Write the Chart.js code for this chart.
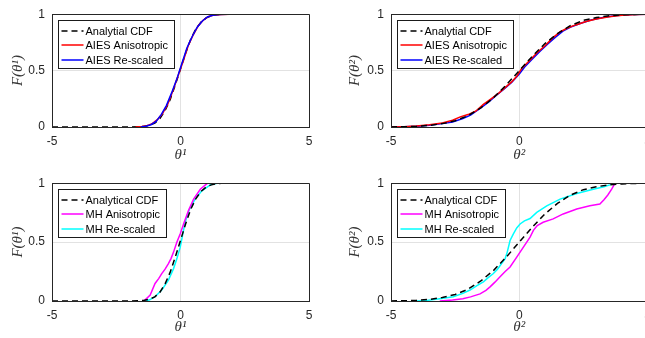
<!DOCTYPE html>
<html><head><meta charset="utf-8">
<script src="https://cdn.jsdelivr.net/npm/chart.js@4/dist/chart.umd.min.js"></script>
<style>
html,body{margin:0;padding:0;background:#fff;overflow:hidden;width:645px;height:338px}
#wrap{position:relative;width:645px;height:338px;overflow:hidden;background:#fff}
canvas{position:absolute}
</style></head><body>
<div id="wrap">
<canvas id="c1" width="330" height="169" style="left:0;top:0;width:330px;height:169px"></canvas>
<canvas id="c2" width="340" height="169" style="left:330px;top:0;width:340px;height:169px"></canvas>
<canvas id="c3" width="330" height="169" style="left:0;top:169px;width:330px;height:169px"></canvas>
<canvas id="c4" width="340" height="169" style="left:330px;top:169px;width:340px;height:169px"></canvas>
</div>
<script>
// ---- tick values and labels ----
const xTickVals = [-5, 0, 5];
const xTickLabels = ['-5', '0', '5'];
const yTickVals = [0, 0.5, 1];
const yTickLabels = ['0', '0.5', '1'];

// ---- legend labels ----
const labelsTop = ['Analytial CDF', 'AIES Anisotropic', 'AIES Re-scaled'];
const labelsBot = ['Analytical CDF', 'MH Anisotropic', 'MH Re-scaled'];

// ---- theta^1 analytical CDF ----
const cdf1X = [-5, -2, -1.6, -1.4, -1.2, -1.0, -0.8, -0.6, -0.4, -0.2, 0, 0.2, 0.4, 0.6, 0.8, 1.0, 1.2, 1.4, 1.6, 2, 5];
const cdf1Y = [0, 0, 0.002, 0.006, 0.016, 0.035, 0.075, 0.145, 0.245, 0.375, 0.515, 0.655, 0.78, 0.87, 0.93, 0.968, 0.986, 0.995, 0.999, 1, 1];

// ---- theta^2 analytical CDF ----
const cdf2X = [-5, -4.5, -4, -3.5, -3, -2.5, -2, -1.5, -1, -0.5, 0, 0.5, 1, 1.5, 2, 2.5, 3, 3.5, 4, 4.5, 5];
const cdf2Y = [0.001, 0.002, 0.006, 0.014, 0.03, 0.055, 0.1, 0.17, 0.26, 0.375, 0.5, 0.625, 0.74, 0.83, 0.9, 0.945, 0.97, 0.986, 0.994, 0.998, 1];

// ---- AIES theta^1 ----
const aiesA1X = [-1.75, -1.5, -1.3, -1.1, -0.9, -0.7, -0.5, -0.3, -0.1, 0.1, 0.3, 0.5, 0.7, 0.9, 1.1, 1.3, 1.6, 1.9];
const aiesA1Y = [0, 0.004, 0.012, 0.03, 0.065, 0.12, 0.2, 0.32, 0.45, 0.58, 0.72, 0.82, 0.9, 0.95, 0.98, 0.993, 0.998, 1];
const aiesR1X = [-1.55, -1.35, -1.15, -0.95, -0.75, -0.55, -0.35, -0.15, 0.05, 0.25, 0.45, 0.65, 0.85, 1.05, 1.25, 1.5, 1.85];
const aiesR1Y = [0, 0.006, 0.02, 0.05, 0.11, 0.19, 0.3, 0.42, 0.56, 0.7, 0.8, 0.885, 0.94, 0.975, 0.99, 0.997, 1];

// ---- AIES theta^2 ----
const aiesA2X = [-5, -4.5, -4, -3.5, -3, -2.6, -2.3, -2.0, -1.7, -1.4, -1.1, -0.8, -0.5, -0.3, -0.1, 0.1, 0.4, 0.7, 1.0, 1.3, 1.6, 1.9, 2.2, 2.6, 3.0, 3.5, 4.0, 4.6, 5];
const aiesA2Y = [0, 0.003, 0.008, 0.02, 0.035, 0.06, 0.09, 0.11, 0.14, 0.2, 0.25, 0.3, 0.36, 0.40, 0.45, 0.52, 0.59, 0.66, 0.72, 0.79, 0.845, 0.88, 0.905, 0.935, 0.958, 0.978, 0.99, 0.998, 1];
const aiesR2X = [-5, -4.5, -4, -3.5, -3, -2.6, -2.2, -1.9, -1.5, -1.2, -0.9, -0.6, -0.3, 0, 0.2, 0.5, 0.8, 1.1, 1.4, 1.7, 2.0, 2.4, 2.8, 3.3, 3.8, 4.4, 5];
const aiesR2Y = [0, 0.002, 0.006, 0.015, 0.03, 0.045, 0.075, 0.105, 0.17, 0.22, 0.28, 0.335, 0.395, 0.47, 0.53, 0.6, 0.67, 0.735, 0.795, 0.85, 0.885, 0.92, 0.948, 0.972, 0.988, 0.997, 1];

// ---- MH theta^1 ----
const mhA1X = [-1.45, -1.375, -1.18, -0.99, -0.85, -0.73, -0.6, -0.47, -0.37, -0.27, -0.14, -0.01, 0.12, 0.31, 0.51, 0.77, 1.03, 1.1];
const mhA1Y = [0, 0.01, 0.05, 0.149, 0.19, 0.233, 0.27, 0.318, 0.36, 0.415, 0.5, 0.57, 0.654, 0.767, 0.865, 0.949, 0.997, 1];
const mhR1X = [-1.35, -1.2, -0.99, -0.73, -0.47, -0.27, -0.14, -0.01, 0.09, 0.18, 0.35, 0.57, 0.83, 1.16, 1.42];
const mhR1Y = [0, 0.01, 0.036, 0.093, 0.177, 0.275, 0.36, 0.457, 0.57, 0.668, 0.78, 0.865, 0.935, 0.986, 1];

// ---- MH theta^2 ----
const mhA2X = [-3.1, -2.6, -2.2, -1.9, -1.53, -1.3, -1.14, -0.95, -0.75, -0.55, -0.36, -0.1, 0.16, 0.42, 0.55, 0.7, 0.93, 1.32, 1.71, 2.24, 2.75, 3.14, 3.3, 3.45, 3.6, 3.73];
const mhA2Y = [0, 0.008, 0.02, 0.035, 0.06, 0.09, 0.12, 0.16, 0.205, 0.25, 0.289, 0.373, 0.458, 0.542, 0.6, 0.64, 0.668, 0.697, 0.739, 0.781, 0.809, 0.823, 0.86, 0.9, 0.949, 1];
const mhR2X = [-4.0, -3.6, -3.1, -2.57, -2.2, -1.92, -1.65, -1.40, -1.2, -1.01, -0.85, -0.69, -0.55, -0.47, -0.36, -0.23, -0.1, 0.03, 0.2, 0.42, 0.68, 1.07, 1.59, 2.24, 2.88, 3.3, 3.53, 3.66];
const mhR2Y = [0, 0.005, 0.02, 0.036, 0.065, 0.093, 0.13, 0.163, 0.2, 0.233, 0.27, 0.318, 0.36, 0.415, 0.514, 0.57, 0.62, 0.654, 0.68, 0.70, 0.752, 0.808, 0.865, 0.912, 0.949, 0.97, 0.986, 1];

// ---- helpers ----
const pts = (xs, ys) => xs.map((x, i) => ({x: x, y: ys[i]}));
function series(label, xs, ys, color, dash, order) {
  return {label: label, data: pts(xs, ys), borderColor: color, backgroundColor: color,
    borderWidth: 1.5, borderDash: dash, pointRadius: 0, pointHoverRadius: 0,
    fill: false, tension: 0, order: order};
}

const framePlugin = {
  id: 'frame',
  afterDatasetsDraw(chart) {
    const {ctx, chartArea: a} = chart;
    ctx.save();
    ctx.strokeStyle = '#262626';
    ctx.lineWidth = 1;
    const l = Math.floor(a.left) + 0.5, t = Math.floor(a.top) + 0.5;
    const r = Math.floor(a.right) + 0.5, b = Math.floor(a.bottom) + 0.5;
    ctx.beginPath();
    ctx.moveTo(l, b); ctx.lineTo(l, t); ctx.lineTo(r, t); ctx.lineTo(r, b); ctx.lineTo(l, b);
    ctx.stroke();
    ctx.restore();
  }
};

const boxLegend = {
  id: 'boxLegend',
  afterDraw(chart) {
    const {ctx, chartArea: a} = chart;
    const dsets = chart.data.datasets;
    ctx.save();
    ctx.font = '11px "Liberation Sans", Arial, sans-serif';
    let maxW = 0;
    dsets.forEach(d => { maxW = Math.max(maxW, ctx.measureText(d.label).width); });
    const x0 = Math.floor(a.left + 6) + 0.5, y0 = Math.floor(a.top + 6) + 0.5;
    const w = Math.round(27 + maxW + 6), h = 48;
    ctx.fillStyle = '#fff';
    ctx.fillRect(x0, y0, w, h);
    ctx.strokeStyle = '#1a1a1a';
    ctx.lineWidth = 1;
    ctx.strokeRect(x0, y0, w, h);
    dsets.forEach((d, i) => {
      const yy = Math.round(y0 + 10 + i * 14.5);
      ctx.strokeStyle = d.borderColor;
      ctx.lineWidth = d.borderWidth;
      ctx.setLineDash(d.borderDash || []);
      ctx.beginPath(); ctx.moveTo(x0 + 3, yy); ctx.lineTo(x0 + 25, yy); ctx.stroke();
      ctx.setLineDash([]);
      ctx.fillStyle = '#000';
      ctx.textBaseline = 'middle';
      ctx.textAlign = 'left';
      ctx.fillText(d.label, x0 + 27, yy + 0.5);
    });
    ctx.restore();
  }
};

function panel(id, geo, xTitle, yTitle, datasets) {
  new Chart(document.getElementById(id), {
    type: 'line',
    data: {datasets: datasets},
    plugins: [framePlugin, boxLegend],
    options: {
      responsive: false, animation: false, devicePixelRatio: 1,
      events: [],
      layout: {padding: {left: 0, top: geo.top, right: geo.right, bottom: 0}},
      plugins: {legend: {display: false}, tooltip: {enabled: false}},
      scales: {
        x: {
          type: 'linear', min: -5, max: 5,
          afterBuildTicks: s => { s.ticks = xTickVals.map(v => ({value: v})); },
          afterFit: s => { s.height = geo.xh; },
          grid: {color: '#e2e2e2', lineWidth: 1, drawTicks: false},
          border: {color: '#262626', width: 1},
          ticks: {font: {family: '"Liberation Sans", Arial, sans-serif', size: 12}, color: '#262626', padding: 7, maxRotation: 0,
            callback: (v, i) => xTickLabels[i]},
          title: {display: true, text: xTitle, color: '#333',
            font: {family: '"Liberation Serif", "DejaVu Serif", serif', style: 'italic', size: 15},
            padding: {top: 0, bottom: geo.xtpb}}
        },
        y: {
          type: 'linear', min: 0, max: 1,
          afterBuildTicks: s => { s.ticks = yTickVals.map(v => ({value: v})); },
          afterFit: s => { s.width = geo.yw; },
          grid: {color: '#e2e2e2', lineWidth: 1, drawTicks: false},
          border: {color: '#262626', width: 1},
          ticks: {font: {family: '"Liberation Sans", Arial, sans-serif', size: 12}, color: '#262626', padding: 7,
            callback: (v, i) => yTickLabels[i]},
          title: {display: true, text: yTitle, color: '#333',
            font: {family: '"Liberation Serif", "DejaVu Serif", serif', style: 'italic', size: 15},
            padding: {top: geo.ytpt, bottom: 0}}
        }
      }
    }
  });
}

const geoTL = {top: 8, right: 21, yw: 52, xh: 42, xtpb: 5, ytpt: 9};
const geoTR = {top: 8, right: 22.4, yw: 61, xh: 42, xtpb: 5, ytpt: 16};
const geoBL = {top: 13, right: 21, yw: 52, xh: 37, xtpb: 1.5, ytpt: 9};
const geoBR = {top: 13, right: 22.4, yw: 61, xh: 37, xtpb: 1.5, ytpt: 16};

panel('c1', geoTL, 'θ¹', 'F(θ¹)', [
  series(labelsTop[0], cdf1X, cdf1Y, '#000000', [6, 4], 3),
  series(labelsTop[1], aiesA1X, aiesA1Y, '#ff0000', [], 2),
  series(labelsTop[2], aiesR1X, aiesR1Y, '#0000ff', [], 1)
]);
panel('c2', geoTR, 'θ²', 'F(θ²)', [
  series(labelsTop[0], cdf2X, cdf2Y, '#000000', [6, 4], 1),
  series(labelsTop[1], aiesA2X, aiesA2Y, '#ff0000', [], 2),
  series(labelsTop[2], aiesR2X, aiesR2Y, '#0000ff', [], 3)
]);
panel('c3', geoBL, 'θ¹', 'F(θ¹)', [
  series(labelsBot[0], cdf1X, cdf1Y, '#000000', [6, 4], 1),
  series(labelsBot[1], mhA1X, mhA1Y, '#ff00ff', [], 2),
  series(labelsBot[2], mhR1X, mhR1Y, '#00ffff', [], 3)
]);
panel('c4', geoBR, 'θ²', 'F(θ²)', [
  series(labelsBot[0], cdf2X, cdf2Y, '#000000', [6, 4], 1),
  series(labelsBot[1], mhA2X, mhA2Y, '#ff00ff', [], 2),
  series(labelsBot[2], mhR2X, mhR2Y, '#00ffff', [], 3)
]);
</script>
</body></html>
